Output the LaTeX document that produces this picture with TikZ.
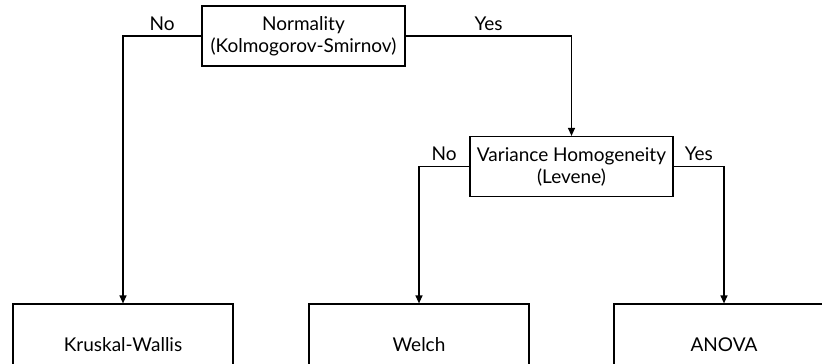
\documentclass[tikz,border=0pt]{standalone}
\usepackage{fontspec}
\setmainfont{Lato}
\usetikzlibrary{arrows.meta}
\begin{document}
\begin{tikzpicture}[x=1pt,y=-1pt,
  txt/.style={font=\fontsize{19}{22}\selectfont},
  decision/.style={draw, line width=1.2pt, minimum width=203pt, minimum height=60pt, align=center, inner sep=0pt, txt},
  result/.style={draw, line width=1.2pt, minimum width=220pt, minimum height=82pt, align=center, inner sep=0pt, txt},
  conn/.style={line width=1.2pt, -{Triangle[length=8pt,width=7pt]}},
  lbl/.style={txt, above=4pt, inner sep=1pt}]
\useasboundingbox (0,0) rectangle (822,364);
\clip (0,0) rectangle (822,364);
\node[decision] (norm) at (303.5,36) {Normality\\(Kolmogorov-Smirnov)};
\node[decision] (var) at (571.5,166.5) {Variance Homogeneity\\(Levene)};
\node[result] (kw) at (123,345) {Kruskal-Wallis};
\node[result] (welch) at (419,345) {Welch};
\node[result] (anova) at (724,345) {ANOVA};
\draw[conn] (norm.west) -| node[lbl, pos=0.25] {No} (kw.north);
\draw[conn] (norm.east) -| node[lbl, pos=0.25] {Yes} (var.north);
\draw[conn] (var.west) -| node[lbl, pos=0.25] {No} (welch.north);
\draw[conn] (var.east) -| node[lbl, pos=0.25] {Yes} (anova.north);
\end{tikzpicture}
\end{document}
